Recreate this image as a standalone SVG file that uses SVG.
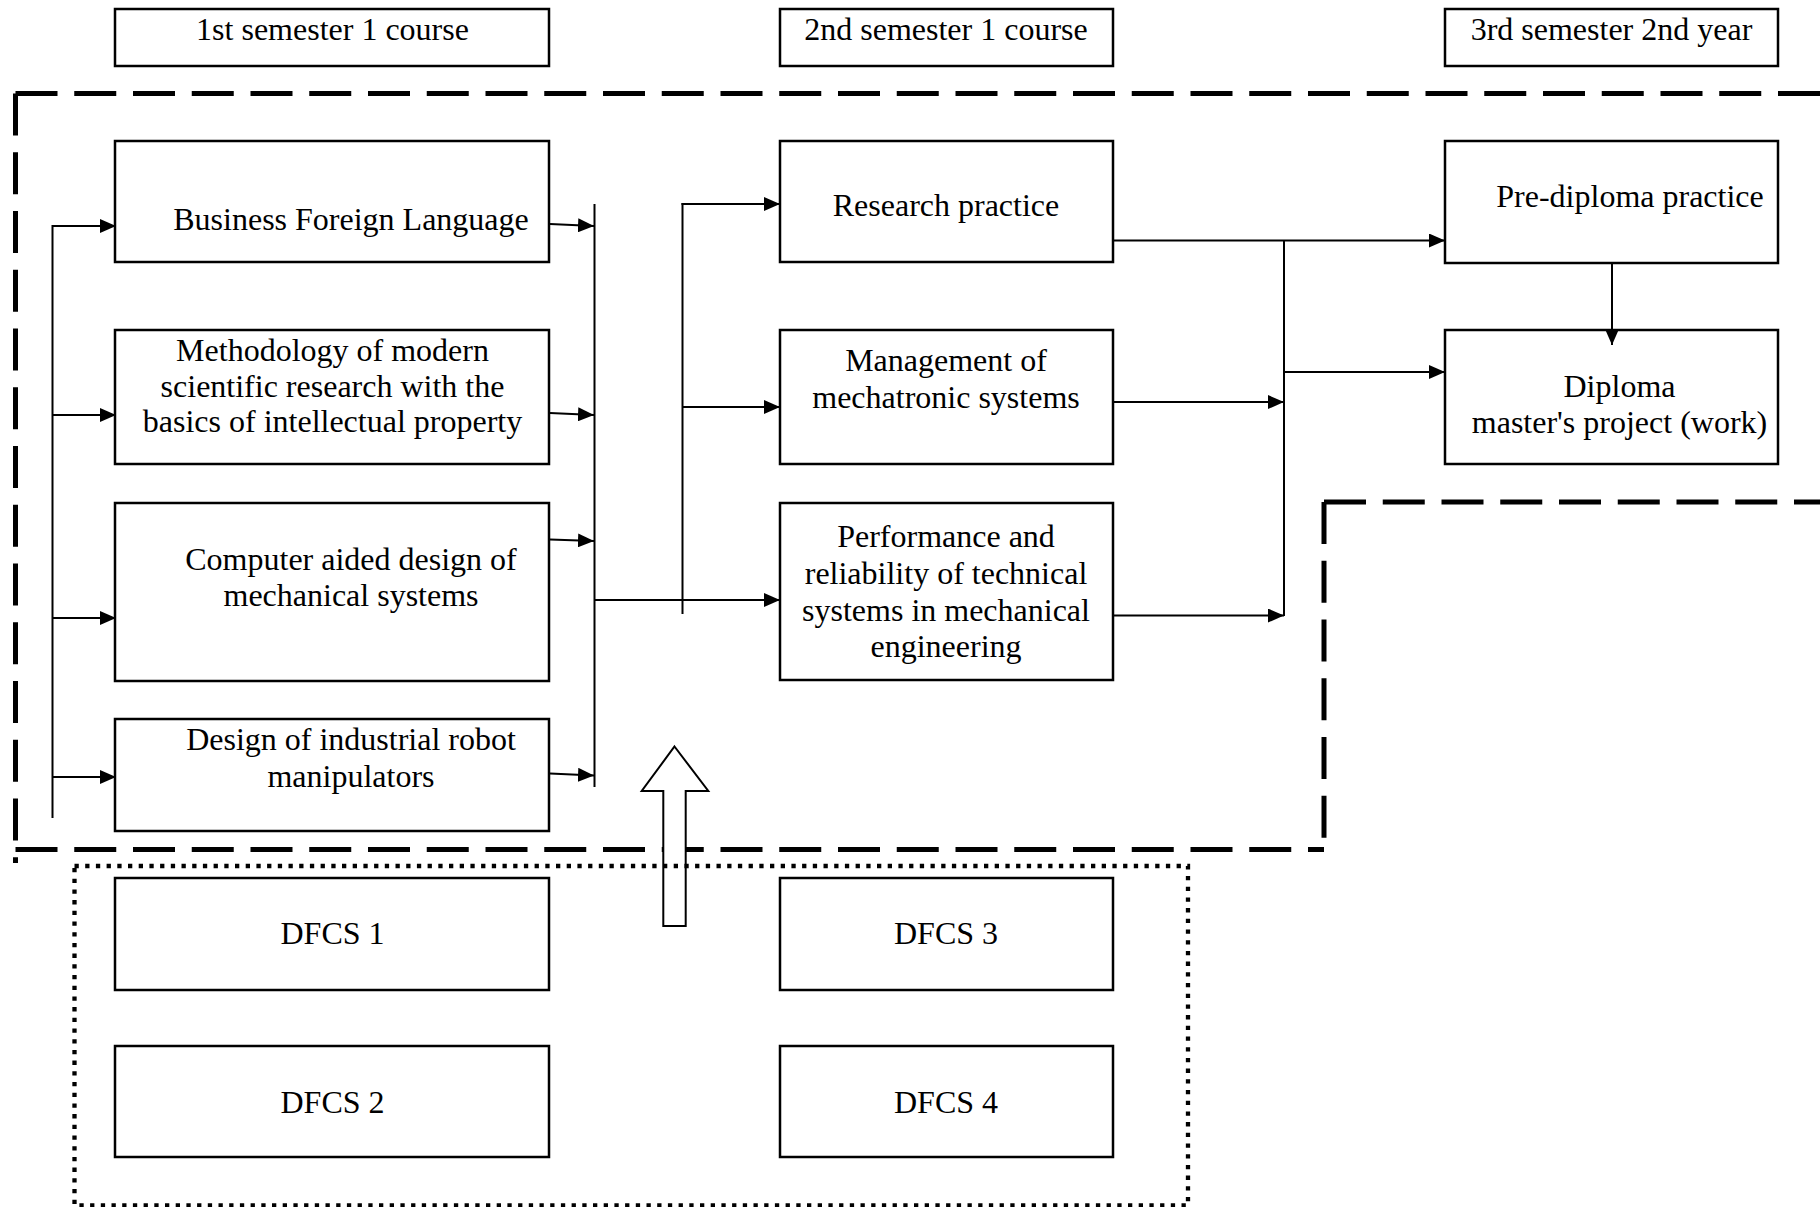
<svg xmlns="http://www.w3.org/2000/svg" width="1820" height="1207" viewBox="0 0 1820 1207">
<style>
  .box { fill: #fff; stroke: #000; stroke-width: 2.5; }
  .lbl { font-family: "Liberation Serif", "Times New Roman", serif; font-size: 32px; fill: #000; text-anchor: middle; }
  .con { stroke: #000; stroke-width: 2; fill: none; }
  .arr { stroke: #000; stroke-width: 2; fill: none; marker-end: url(#ah); }
  .dash { stroke: #000; stroke-width: 5; fill: none; stroke-dasharray: 42 16.75; }
  .dot { stroke: #000; stroke-width: 4.3; fill: none; stroke-dasharray: 4.3 6.4; }
</style>
<defs>
  <marker id="ah" markerUnits="userSpaceOnUse" markerWidth="16" markerHeight="14" refX="16" refY="7" orient="auto">
    <path d="M0,0 L16,7 L0,14 z" fill="#000"/>
  </marker>
</defs>
<rect width="1820" height="1207" fill="#fff"/>

<g id="boundaries">
  <line class="dash" x1="15.5" y1="93.5" x2="1820" y2="93.5"/>
  <line class="dash" x1="15.5" y1="93.5" x2="15.5" y2="863"/>
  <line class="dash" x1="15.5" y1="849.5" x2="1324" y2="849.5"/>
  <line class="dash" x1="1324" y1="502" x2="1324" y2="849.5"/>
  <line class="dash" x1="1324" y1="502" x2="1820" y2="502"/>
</g>

<g id="block-arrow">
  <polygon points="674.5,746.5 708.3,791 685.7,791 685.7,926 663.3,926 663.3,791 641.7,791" fill="#fff" stroke="#000" stroke-width="2"/>
</g>

<g id="dfcs-group">
  <rect class="dot" x="74.5" y="866" width="1113.5" height="339.5"/>
</g>

<g id="headers">
  <g id="h1"><rect class="box" x="115" y="9" width="434" height="57"/><text class="lbl" x="332.5" y="40">1st semester 1 course</text></g>
  <g id="h2"><rect class="box" x="780" y="9" width="333" height="57"/><text class="lbl" x="946" y="40">2nd semester 1 course</text></g>
  <g id="h3"><rect class="box" x="1445" y="9" width="333" height="57"/><text class="lbl" x="1611.5" y="40">3rd semester 2nd year</text></g>
</g>

<g id="n-bfl"><rect class="box" x="115" y="141" width="434" height="121"/><text class="lbl" x="351" y="230">Business Foreign Language</text></g>
<g id="n-meth"><rect class="box" x="115" y="330" width="434" height="134"/>
  <text class="lbl" x="332.5" y="361">Methodology of modern</text>
  <text class="lbl" x="332.5" y="396.5">scientific research with the</text>
  <text class="lbl" x="332.5" y="432">basics of intellectual property</text></g>
<g id="n-cad"><rect class="box" x="115" y="503" width="434" height="178"/>
  <text class="lbl" x="351" y="569.5">Computer aided design of</text>
  <text class="lbl" x="351" y="606">mechanical systems</text></g>
<g id="n-design"><rect class="box" x="115" y="719" width="434" height="112"/>
  <text class="lbl" x="351" y="749.5">Design of industrial robot</text>
  <text class="lbl" x="351" y="786.5">manipulators</text></g>

<g id="n-research"><rect class="box" x="780" y="141" width="333" height="121"/><text class="lbl" x="946" y="216">Research practice</text></g>
<g id="n-mgmt"><rect class="box" x="780" y="330" width="333" height="134"/>
  <text class="lbl" x="946" y="371">Management of</text>
  <text class="lbl" x="946" y="408">mechatronic systems</text></g>
<g id="n-perf"><rect class="box" x="780" y="503" width="333" height="177"/>
  <text class="lbl" x="946" y="547">Performance and</text>
  <text class="lbl" x="946" y="584">reliability of technical</text>
  <text class="lbl" x="946" y="621">systems in mechanical</text>
  <text class="lbl" x="946" y="657">engineering</text></g>

<g id="n-prediploma"><rect class="box" x="1445" y="141" width="333" height="122"/><text class="lbl" x="1630" y="207">Pre-diploma practice</text></g>
<g id="n-diploma"><rect class="box" x="1445" y="330" width="333" height="134"/>
  <text class="lbl" x="1619.5" y="397">Diploma</text>
  <text class="lbl" x="1619.5" y="433">master's project (work)</text></g>

<g id="n-dfcs1"><rect class="box" x="115" y="878" width="434" height="112"/><text class="lbl" x="332.5" y="944">DFCS 1</text></g>
<g id="n-dfcs2"><rect class="box" x="115" y="1046" width="434" height="111"/><text class="lbl" x="332.5" y="1112.5">DFCS 2</text></g>
<g id="n-dfcs3"><rect class="box" x="780" y="878" width="333" height="112"/><text class="lbl" x="946" y="944">DFCS 3</text></g>
<g id="n-dfcs4"><rect class="box" x="780" y="1046" width="333" height="111"/><text class="lbl" x="946" y="1112.5">DFCS 4</text></g>

<g id="connectors">
  <line class="con" x1="52.5" y1="225" x2="52.5" y2="818"/>
  <line class="arr" x1="52.5" y1="226" x2="116" y2="226"/>
  <line class="arr" x1="52.5" y1="415" x2="116" y2="415"/>
  <line class="arr" x1="52.5" y1="618" x2="116" y2="618"/>
  <line class="arr" x1="52.5" y1="777" x2="116" y2="777"/>

  <line class="con" x1="594.5" y1="204" x2="594.5" y2="787"/>
  <line class="arr" x1="550" y1="224" x2="594" y2="226"/>
  <line class="arr" x1="550" y1="413" x2="594" y2="415"/>
  <line class="arr" x1="550" y1="539.5" x2="594" y2="541"/>
  <line class="arr" x1="550" y1="773.5" x2="594" y2="775.5"/>
  <line class="arr" x1="594.5" y1="600" x2="780" y2="600"/>

  <line class="con" x1="682.5" y1="203" x2="682.5" y2="614"/>
  <line class="arr" x1="681.5" y1="204" x2="780" y2="204"/>
  <line class="arr" x1="682.5" y1="407" x2="780" y2="407"/>

  <line class="arr" x1="1112" y1="240.5" x2="1445" y2="240.5"/>
  <line class="con" x1="1284" y1="241" x2="1284" y2="616"/>
  <line class="arr" x1="1113" y1="402" x2="1284" y2="402"/>
  <line class="arr" x1="1113" y1="615.5" x2="1284" y2="615.5"/>
  <line class="arr" x1="1284" y1="372" x2="1445" y2="372"/>
  <line class="arr" x1="1612" y1="263" x2="1612" y2="345"/>
</g>
</svg>
